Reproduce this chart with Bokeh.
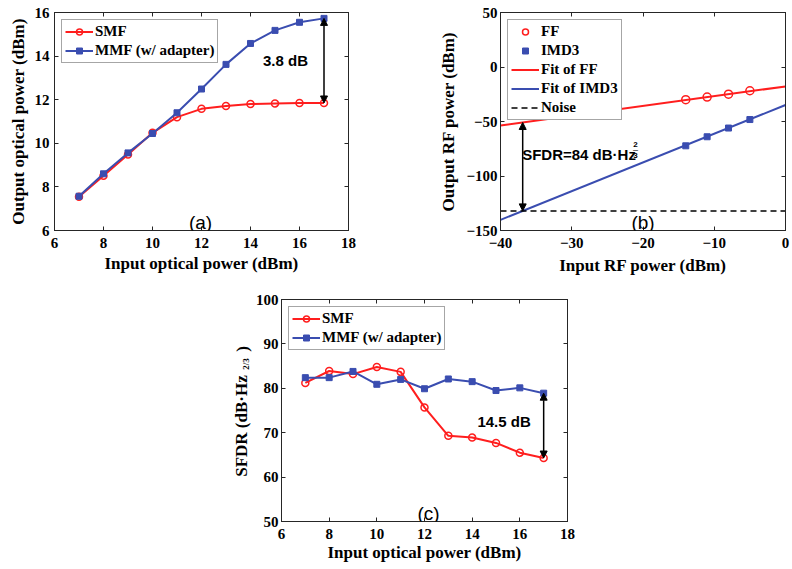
import numpy as np
from bokeh.plotting import figure
from bokeh.models import (LinearAxis, FixedTicker, Range1d, Legend, LegendItem,
                          Arrow, NormalHead, Label, Spacer)
from bokeh.core.properties import value
from bokeh.layouts import column, row
from bokeh.embed import file_html
from bokeh.resources import INLINE

# ---------------- data ----------------
input_optical_dbm = [7, 8, 9, 10, 11, 12, 13, 14, 15, 16, 17]
out_power_smf = [7.55, 8.51, 9.49, 10.48, 11.20, 11.58, 11.71, 11.80, 11.83, 11.85, 11.85]
out_power_mmf = [7.57, 8.60, 9.56, 10.45, 11.40, 12.49, 13.62, 14.58, 15.18, 15.55, 15.73]

rf_input_dbm = [-14, -11, -8, -5]
rf_ff = [-30.0, -27.6, -24.9, -21.8]
rf_imd3 = [-72.3, -64.0, -56.0, -48.2]
fit_x = [-40, 0]
fit_ff = [-53.7, -17.8]
fit_imd3 = [-140.2, -34.9]
noise_floor = -132.0

sfdr_smf = [81.2, 83.9, 83.2, 84.8, 83.7, 75.7, 69.3, 68.9, 67.7, 65.5, 64.3]
sfdr_mmf = [82.4, 82.4, 83.8, 80.9, 82.0, 79.9, 82.1, 81.5, 79.5, 80.1, 78.9]

ticks_opt_x = [6, 8, 10, 12, 14, 16, 18]
ticks_a_y = [6, 8, 10, 12, 14, 16]
ticks_b_x = [-40, -30, -20, -10, 0]
ticks_b_y = [-150, -100, -50, 0, 50]
ticks_c_y = [50, 60, 70, 80, 90, 100]

# ---------------- style ----------------
SERIF = "Liberation Serif"
SANS = "Liberation Sans"
AX = "#262626"
RED = "#FF1E1E"
BLUE = "#3A4DB0"


def minus(v):
    return str(v).replace("-", "\u2212")


def base_fig(w, h, xr, yr, xt, yt, borders, xlabel, ylabel, stand):
    bl, br, bt, bb = borders
    x_ls, x_als, y_ls, y_als = stand
    p = figure(width=w, height=h, x_range=Range1d(*xr), y_range=Range1d(*yr),
               output_backend="svg", toolbar_location=None,
               min_border_left=bl, min_border_right=br,
               min_border_top=bt, min_border_bottom=bb)
    p.grid.visible = False
    p.outline_line_color = AX
    p.outline_line_width = 1
    p.background_fill_color = "white"
    p.border_fill_color = "white"
    for ax, ticks, lab, ls, als in ((p.xaxis[0], xt, xlabel, x_ls, x_als),
                                     (p.yaxis[0], yt, ylabel, y_ls, y_als)):
        ax.ticker = FixedTicker(ticks=ticks)
        ax.major_label_overrides = {t: minus(t) for t in ticks}
        ax.axis_line_color = AX
        ax.major_tick_line_color = AX
        ax.major_tick_in = 4
        ax.major_tick_out = 0
        ax.minor_tick_line_color = None
        ax.major_label_text_font = SERIF
        ax.major_label_text_font_style = "bold"
        ax.major_label_text_font_size = "15px"
        ax.major_label_text_color = "black"
        ax.major_label_standoff = ls
        if lab:
            ax.axis_label = lab
            ax.axis_label_text_font = SERIF
            ax.axis_label_text_font_style = "bold"
            ax.axis_label_text_font_size = "17px"
            ax.axis_label_text_color = "black"
            ax.axis_label_standoff = als
    for loc, ticks in (("above", xt), ("right", yt)):
        ax = LinearAxis(ticker=FixedTicker(ticks=ticks),
                        major_label_overrides={t: "" for t in ticks},
                        major_label_text_font_size="1px", major_label_standoff=0,
                        major_tick_in=4, major_tick_out=0,
                        minor_tick_line_color=None,
                        axis_line_color=AX, major_tick_line_color=AX)
        p.add_layout(ax, loc)
    return p


def make_legend(items):
    return Legend(items=items, location="top_left", margin=7, padding=3, spacing=2,
                  label_text_font=SERIF, label_text_font_style="bold",
                  label_text_font_size="15px", label_text_color="black",
                  glyph_width=28, glyph_height=15, label_height=15, label_standoff=2,
                  border_line_color="#4d4d4d", border_line_width=1,
                  background_fill_color="white", background_fill_alpha=1)


def head():
    return NormalHead(size=7, fill_color="black", line_color="black", line_width=1)


def two_series(p, ys1, ys2):
    l1 = p.line(input_optical_dbm, ys1, line_color=RED, line_width=2)
    s1 = p.scatter(input_optical_dbm, ys1, marker="circle", size=7, line_color=RED,
                   line_width=1.5, fill_color=None)
    l2 = p.line(input_optical_dbm, ys2, line_color=BLUE, line_width=2)
    s2 = p.scatter(input_optical_dbm, ys2, marker="square", size=6, line_color=BLUE,
                   fill_color=BLUE)
    p.add_layout(make_legend([LegendItem(label="SMF", renderers=[l1, s1]),
                              LegendItem(label="MMF (w/ adapter)", renderers=[l2, s2])]))
    p.add_layout(Arrow(start=head(), end=head(),
                       x_start=input_optical_dbm[-1], y_start=ys1[-1],
                       x_end=input_optical_dbm[-1], y_end=ys2[-1],
                       line_color="black", line_width=1.5))


# ---------------- (a) ----------------
pa = base_fig(395, 280, (6, 18), (6, 16), ticks_opt_x, ticks_a_y, (54, 47, 12, 48),
              "Input optical power (dBm)", "Output optical power (dBm)", (7, 3, 5, 4))
two_series(pa, out_power_smf, out_power_mmf)
pa.add_layout(Label(x=15.43, y=13.82, text="3.8 dB", text_align="center",
                    text_baseline="middle", text_font=SANS, text_font_style="bold",
                    text_font_size="15px", text_color="black"))
pa.add_layout(Label(x=11.96, y=6.36, text="(a)", text_align="center",
                    text_baseline="middle", text_font=SANS, text_font_size="19px",
                    text_color="black"))

# ---------------- (b) ----------------
pb = base_fig(397, 280, (-40, 0), (-150, 50), ticks_b_x, ticks_b_y, (105, 7, 12, 50),
              "Input RF power (dBm)", "Output RF power (dBm)", (7, 5, 3, 5))
r_ff = pb.scatter(rf_input_dbm, rf_ff, marker="circle", size=8, line_color=RED,
                  line_width=1.5, fill_color=None)
r_imd = pb.scatter(rf_input_dbm, rf_imd3, marker="square", size=6, line_color=BLUE,
                   fill_color=BLUE)
r_fitff = pb.line(fit_x, fit_ff, line_color=RED, line_width=2)
r_fitimd = pb.line(fit_x, fit_imd3, line_color=BLUE, line_width=2)
r_noise = pb.line(fit_x, [noise_floor, noise_floor], line_color="black", line_width=1.5,
                  line_dash="6 4")
pb.add_layout(make_legend([LegendItem(label="FF", renderers=[r_ff]),
                           LegendItem(label="IMD3", renderers=[r_imd]),
                           LegendItem(label="Fit of FF", renderers=[r_fitff]),
                           LegendItem(label="Fit of IMD3", renderers=[r_fitimd]),
                           LegendItem(label="Noise", renderers=[r_noise])]))
arrow_x = float(np.interp(noise_floor, fit_imd3, fit_x))
arrow_top = float(np.interp(arrow_x, fit_x, fit_ff))
pb.add_layout(Arrow(start=head(), end=head(), x_start=arrow_x, y_start=noise_floor,
                    x_end=arrow_x, y_end=arrow_top, line_color="black", line_width=1.5))
pb.add_layout(Label(x=-36.96, y=-80.4, text="SFDR=84 dB\u00b7Hz", text_align="left",
                    text_baseline="middle", text_font=SANS, text_font_style="bold",
                    text_font_size="15px", text_color="black"))
for ty, tt, fs in ((-70.7, "2", "8px"), (-75.9, "\u2014", "5px"), (-80.8, "3", "8px")):
    pb.add_layout(Label(x=-21.07, y=ty, text=tt, text_align="center",
                        text_baseline="middle", text_font=SANS, text_font_style="bold",
                        text_font_size=fs, text_color="black"))
pb.add_layout(Label(x=-20.0, y=-142.6, text="(b)", text_align="center",
                    text_baseline="middle", text_font=SANS, text_font_size="19px",
                    text_color="black"))

# ---------------- (c) ----------------
pc = base_fig(348, 289, (6, 18), (50, 100), ticks_opt_x, ticks_c_y, (28, 33, 19, 48),
              "Input optical power (dBm)", None, (7, 1, 3, 4))
two_series(pc, sfdr_smf, sfdr_mmf)
pc.add_layout(Label(x=15.34, y=72.5, text="14.5 dB", text_align="center",
                    text_baseline="middle", text_font=SANS, text_font_style="bold",
                    text_font_size="15px", text_color="black"))
pc.add_layout(Label(x=12.17, y=51.9, text="(c)", text_align="center",
                    text_baseline="middle", text_font=SANS, text_font_size="19px",
                    text_color="black"))

# y-axis title of (c) with its superscript, in a narrow strip left of the axis
pt = figure(width=57, height=289, x_range=Range1d(0, 1), y_range=Range1d(50, 100),
            output_backend="svg", toolbar_location=None, x_axis_type=None,
            y_axis_type=None, min_border_left=0, min_border_right=0,
            min_border_top=19, min_border_bottom=48)
pt.grid.visible = False
pt.outline_line_color = None
pt.text(x=[0.80], y=[71.5], text=["SFDR (dB\u00b7Hz"], angle=np.pi / 2,
        text_align="center", text_baseline="middle", text_font=value(SERIF),
        text_font_style="bold", text_font_size="17px", text_color="black")
pt.text(x=[0.885], y=[85.5], text=["2/3"], angle=np.pi / 2,
        text_align="center", text_baseline="middle", text_font=value(SERIF),
        text_font_style="bold", text_font_size="9px", text_color="black")
pt.text(x=[0.83], y=[88.85], text=[")"], angle=np.pi / 2,
        text_align="center", text_baseline="middle", text_font=value(SERIF),
        text_font_style="bold", text_font_size="17px", text_color="black")

layout = column(row(pa, pb), row(Spacer(width=195, height=289), pt, pc))

open("out.html", "w").write(file_html(layout, INLINE))
